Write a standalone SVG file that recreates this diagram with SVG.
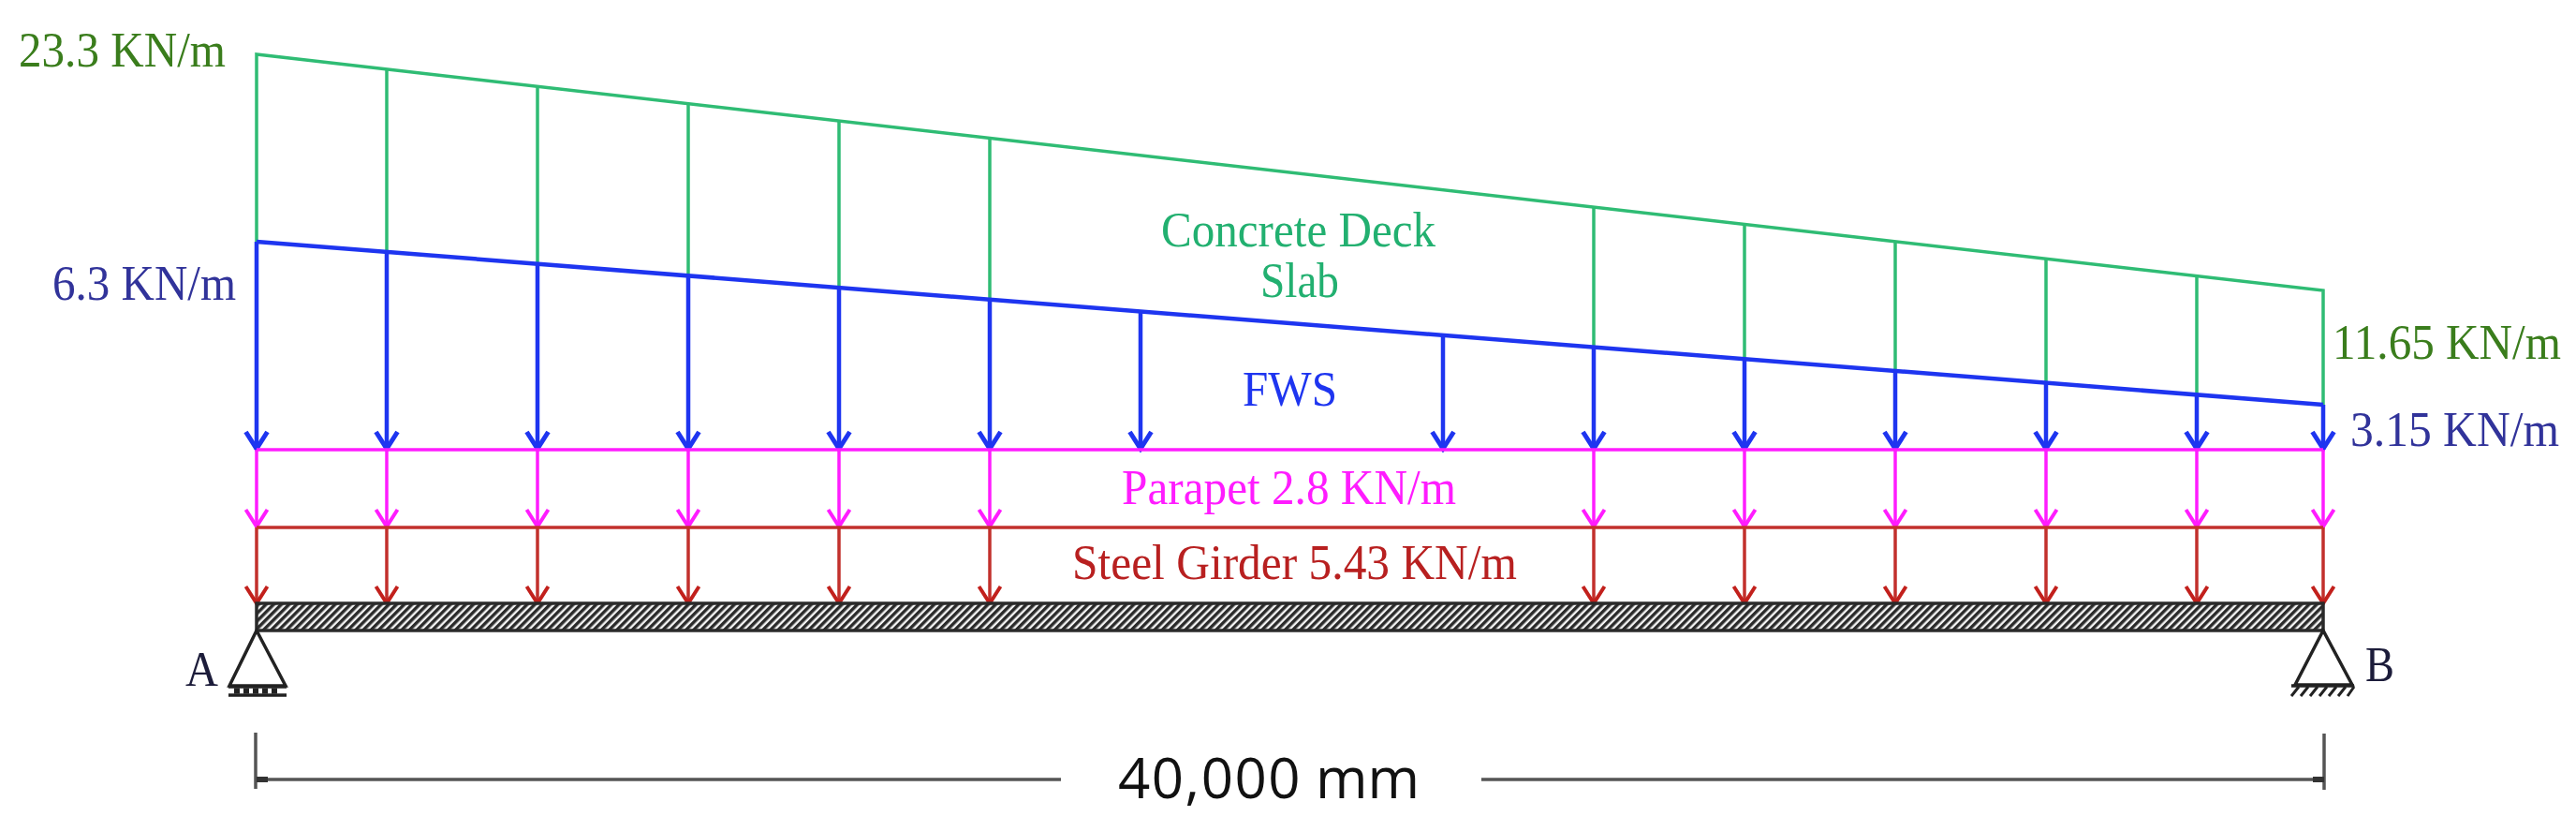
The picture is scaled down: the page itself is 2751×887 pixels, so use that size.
<svg xmlns="http://www.w3.org/2000/svg" width="2751" height="887" viewBox="0 0 2751 887">
<style>
text{font-family:"Liberation Serif","Times New Roman",serif;font-size:52px}
.dk{fill:#3a7d1c}.nv{fill:#31339a}
.g{stroke:#2fbc74;stroke-width:3.5;fill:none}
.b{stroke:#1e35f0;stroke-width:4.5;fill:none}
.m{stroke:#ff1cff;stroke-width:3.5;fill:none}
.r{stroke:#c2302c;stroke-width:3.5;fill:none}
.blk{stroke:#222;stroke-width:3.5;fill:none}
.dim{stroke:#555;stroke-width:3.5;fill:none}
.ba{marker-end:url(#hb)}.ma{marker-end:url(#hm)}.ra{marker-end:url(#hr)}
</style>
<defs>
<marker id="hb" markerUnits="userSpaceOnUse" markerWidth="24" markerHeight="30" refX="21" refY="14" orient="auto"><path d="M2,2.500L20,14L2,25.500" fill="none" stroke="#1e35f0" stroke-width="5"/></marker>
<marker id="hm" markerUnits="userSpaceOnUse" markerWidth="24" markerHeight="30" refX="21" refY="14" orient="auto"><path d="M2,2.500L20,14L2,25.500" fill="none" stroke="#ff1cff" stroke-width="4"/></marker>
<marker id="hr" markerUnits="userSpaceOnUse" markerWidth="24" markerHeight="30" refX="21" refY="14" orient="auto"><path d="M2,2.500L20,14L2,25.500" fill="none" stroke="#c2201c" stroke-width="4"/></marker>
<pattern id="hatch" width="5.800" height="5.800" patternUnits="userSpaceOnUse" patternTransform="rotate(45)"><rect width="5.800" height="5.800" fill="#f4f4f4"/><rect width="3.400" height="5.800" fill="#2a2a2a"/></pattern>
</defs>
<rect width="2751" height="887" fill="#fff"/>
<g id="connectors">
<g id="concrete-load">
<path class="g" d="M274,258V58L2481,310V432"/>
<path class="g" d="M413,74V269M574,92V282M735,111V294M896,129V307M1057,147V320M1702,221V371M1863,240V383M2024,258V396M2185,276V409M2346,295V421"/>
</g>
<g id="fws-load">
<path class="b" d="M274,258L2481,432"/>
<path class="b ba" d="M274,258V480"/><path class="b ba" d="M413,269V480"/><path class="b ba" d="M574,282V480"/><path class="b ba" d="M735,294V480"/><path class="b ba" d="M896,307V480"/><path class="b ba" d="M1057,320V480"/><path class="b ba" d="M1218,332V480"/><path class="b ba" d="M1541,358V480"/><path class="b ba" d="M1702,371V480"/><path class="b ba" d="M1863,383V480"/><path class="b ba" d="M2024,396V480"/><path class="b ba" d="M2185,409V480"/><path class="b ba" d="M2346,421V480"/><path class="b ba" d="M2481,432V480"/>
</g>
<g id="parapet-load">
<path class="m" d="M274,480H2481"/>
<path class="m ma" d="M274,480V563"/><path class="m ma" d="M413,480V563"/><path class="m ma" d="M574,480V563"/><path class="m ma" d="M735,480V563"/><path class="m ma" d="M896,480V563"/><path class="m ma" d="M1057,480V563"/><path class="m ma" d="M1702,480V563"/><path class="m ma" d="M1863,480V563"/><path class="m ma" d="M2024,480V563"/><path class="m ma" d="M2185,480V563"/><path class="m ma" d="M2346,480V563"/><path class="m ma" d="M2481,480V563"/>
</g>
<g id="girder-load">
<path class="r" d="M274,563H2481"/>
<path class="r ra" d="M274,563V645"/><path class="r ra" d="M413,563V645"/><path class="r ra" d="M574,563V645"/><path class="r ra" d="M735,563V645"/><path class="r ra" d="M896,563V645"/><path class="r ra" d="M1057,563V645"/><path class="r ra" d="M1702,563V645"/><path class="r ra" d="M1863,563V645"/><path class="r ra" d="M2024,563V645"/><path class="r ra" d="M2185,563V645"/><path class="r ra" d="M2346,563V645"/><path class="r ra" d="M2481,563V645"/>
</g>
<g id="dimension">
<path class="dim" d="M273,782V842M2482,783V843M273,832H1133M1582,832H2482"/>
<path d="M274,832H286M2470,832H2482" stroke="#333" stroke-width="6" fill="none"/>
</g>
</g>
<g id="beam"><rect x="274" y="644" width="2207" height="29" fill="url(#hatch)" stroke="#2a2a2a" stroke-width="3.500"/></g>
<g id="support-a">
<path class="blk" d="M274,673L245,732H305Z"/>
<path class="blk" d="M244,733H306M244,742H306"/>
<path d="M250,737.500H300" stroke="#222" stroke-width="6" stroke-dasharray="6 4" fill="none"/>
<text x="198" y="732" textLength="35" lengthAdjust="spacingAndGlyphs" fill="#1c1c3a">A</text>
</g>
<g id="support-b">
<path class="blk" d="M2481,673L2451,731H2512Z"/>
<path class="blk" d="M2447,732H2514"/>
<path d="M2455,733L2447,743M2465,733L2457,743M2475,733L2467,743M2485,733L2477,743M2495,733L2487,743M2505,733L2497,743M2514,733L2507,743" stroke="#222" stroke-width="3" fill="none"/>
<text x="2526" y="727" textLength="31" lengthAdjust="spacingAndGlyphs" fill="#1c1c3a">B</text>
</g>
<g id="labels">
<text class="dk" x="20" y="71" textLength="221" lengthAdjust="spacingAndGlyphs">23.3 KN/m</text>
<text class="nv" x="56" y="320" textLength="196" lengthAdjust="spacingAndGlyphs">6.3 KN/m</text>
<text class="dk" x="2491" y="383" textLength="244" lengthAdjust="spacingAndGlyphs">11.65 KN/m</text>
<text class="nv" x="2510" y="476" textLength="223" lengthAdjust="spacingAndGlyphs">3.15 KN/m</text>
<text x="1240" y="263" textLength="293" lengthAdjust="spacingAndGlyphs" fill="#22b070">Concrete Deck</text>
<text x="1346" y="317" textLength="84" lengthAdjust="spacingAndGlyphs" fill="#22b070">Slab</text>
<text x="1327" y="433" textLength="101" lengthAdjust="spacingAndGlyphs" fill="#1e35f0">FWS</text>
<text x="1198" y="538" textLength="357" lengthAdjust="spacingAndGlyphs" fill="#ff1cff">Parapet 2.8 KN/m</text>
<text x="1145" y="618" textLength="475" lengthAdjust="spacingAndGlyphs" fill="#b82020">Steel Girder 5.43 KN/m</text>
<text y="852" style="font-family:'Open Sans','Noto Sans',sans-serif;font-size:60px" fill="#111"><tspan x="1194" letter-spacing="1.5">40,000</tspan> <tspan x="1405">mm</tspan></text>
</g>
</svg>
